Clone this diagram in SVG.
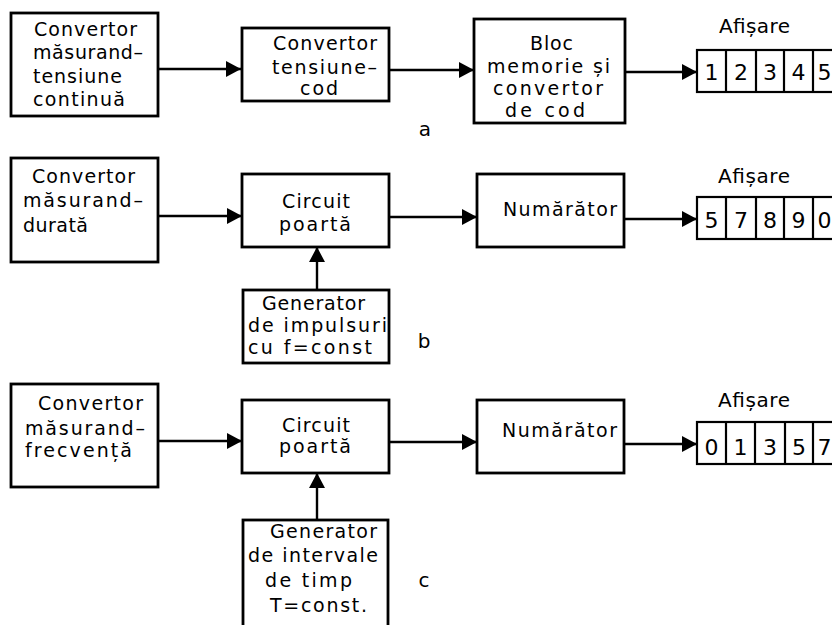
<svg xmlns="http://www.w3.org/2000/svg" width="832" height="625" viewBox="0 0 832 625">
<style>
.box{fill:#fff;stroke:#000;stroke-width:2.8}
.cell{fill:#fff;stroke:#000;stroke-width:2.2}
.con{fill:none;stroke:#000;stroke-width:2.4}
text{font-family:"DejaVu Sans","Liberation Sans",sans-serif;fill:#000}
.t{font-size:19px}
.h{font-size:20px}
.d{font-size:22px;text-anchor:middle}
.lbl{font-size:20px;text-anchor:middle}
</style>
<defs>
<marker id="ah" markerUnits="userSpaceOnUse" markerWidth="15" markerHeight="16" refX="15" refY="8" orient="auto">
<path d="M0,0 L15,8 L0,16 z" fill="#000"/>
</marker>
</defs>
<rect width="832" height="625" fill="#fff"/>
<g id="connectors">
<line class="con" x1="158" y1="69" x2="241" y2="69" marker-end="url(#ah)"/>
<line class="con" x1="389" y1="70" x2="474" y2="70" marker-end="url(#ah)"/>
<line class="con" x1="625" y1="72" x2="697" y2="72" marker-end="url(#ah)"/>
<line class="con" x1="158" y1="216" x2="242" y2="216" marker-end="url(#ah)"/>
<line class="con" x1="389" y1="217" x2="477" y2="217" marker-end="url(#ah)"/>
<line class="con" x1="624" y1="219" x2="697" y2="219" marker-end="url(#ah)"/>
<line class="con" x1="317" y1="290" x2="317" y2="247" marker-end="url(#ah)"/>
<line class="con" x1="158" y1="441" x2="242" y2="441" marker-end="url(#ah)"/>
<line class="con" x1="389" y1="442" x2="477" y2="442" marker-end="url(#ah)"/>
<line class="con" x1="624" y1="444" x2="697" y2="444" marker-end="url(#ah)"/>
<line class="con" x1="317" y1="520" x2="317" y2="473" marker-end="url(#ah)"/>
</g>
<!-- Row a -->
<g id="a-conv">
<rect class="box" x="11" y="13" width="147" height="103"/>
<text class="t" x="34" y="36" textLength="103" lengthAdjust="spacing">Convertor</text>
<text class="t" x="33" y="59" textLength="110" lengthAdjust="spacing">măsurand–</text>
<text class="t" x="33" y="83" textLength="89" lengthAdjust="spacing">tensiune</text>
<text class="t" x="33" y="106" textLength="92" lengthAdjust="spacing">continuă</text>
</g>
<g id="a-tcod">
<rect class="box" x="242" y="28" width="147" height="73"/>
<text class="t" x="273" y="50" textLength="104" lengthAdjust="spacing">Convertor</text>
<text class="t" x="272" y="74" textLength="105" lengthAdjust="spacing">tensiune–</text>
<text class="t" x="300" y="95" textLength="38" lengthAdjust="spacing">cod</text>
</g>
<g id="a-mem">
<rect class="box" x="474" y="19" width="151" height="104"/>
<text class="t" x="530" y="50" textLength="43" lengthAdjust="spacing">Bloc</text>
<text class="t" x="487" y="73" textLength="123" lengthAdjust="spacing">memorie  și</text>
<text class="t" x="493" y="95" textLength="110" lengthAdjust="spacing">convertor</text>
<text class="t" x="505" y="117" textLength="80" lengthAdjust="spacing">de  cod</text>
</g>
<g id="a-disp">
<text class="h" x="719" y="33" textLength="71" lengthAdjust="spacing">Afișare</text>
<rect class="cell" x="697" y="50" width="145" height="42"/>
<line class="cell" x1="726" y1="50" x2="726" y2="92"/>
<line class="cell" x1="756" y1="50" x2="756" y2="92"/>
<line class="cell" x1="784" y1="50" x2="784" y2="92"/>
<line class="cell" x1="813" y1="50" x2="813" y2="92"/>
<text class="d" x="711.5" y="80">1</text>
<text class="d" x="741" y="80">2</text>
<text class="d" x="770" y="80">3</text>
<text class="d" x="798.5" y="80">4</text>
<text class="d" x="824.5" y="80">5</text>
</g>
<text class="lbl" x="425" y="136">a</text>
<!-- Row b -->
<g id="b-conv">
<rect class="box" x="11" y="158" width="147" height="104"/>
<text class="t" x="32" y="183" textLength="103" lengthAdjust="spacing">Convertor</text>
<text class="t" x="23" y="207" textLength="120" lengthAdjust="spacing">măsurand–</text>
<text class="t" x="23" y="232" textLength="65" lengthAdjust="spacing">durată</text>
</g>
<g id="b-gate">
<rect class="box" x="242" y="174" width="147" height="73"/>
<text class="t" x="282" y="208" textLength="68" lengthAdjust="spacing">Circuit</text>
<text class="t" x="279" y="231" textLength="72" lengthAdjust="spacing">poartă</text>
</g>
<g id="b-count">
<rect class="box" x="477" y="174" width="147" height="73"/>
<text class="t" x="503" y="216" textLength="114" lengthAdjust="spacing">Numărător</text>
</g>
<g id="b-gen">
<rect class="box" x="243" y="290" width="146" height="73"/>
<text class="t" x="262" y="310" textLength="103" lengthAdjust="spacing">Generator</text>
<text class="t" x="248" y="332" textLength="139" lengthAdjust="spacing">de  impulsuri</text>
<text class="t" x="248" y="354" textLength="124" lengthAdjust="spacing">cu  f=const</text>
</g>
<g id="b-disp">
<text class="h" x="718" y="183" textLength="72" lengthAdjust="spacing">Afișare</text>
<rect class="cell" x="697" y="197" width="145" height="42"/>
<line class="cell" x1="726" y1="197" x2="726" y2="239"/>
<line class="cell" x1="756" y1="197" x2="756" y2="239"/>
<line class="cell" x1="784" y1="197" x2="784" y2="239"/>
<line class="cell" x1="813" y1="197" x2="813" y2="239"/>
<text class="d" x="711.5" y="228">5</text>
<text class="d" x="741" y="228">7</text>
<text class="d" x="770" y="228">8</text>
<text class="d" x="798.5" y="228">9</text>
<text class="d" x="824.5" y="228">0</text>
</g>
<text class="lbl" x="424" y="348">b</text>
<!-- Row c -->
<g id="c-conv">
<rect class="box" x="11" y="384" width="147" height="103"/>
<text class="t" x="38" y="410" textLength="105" lengthAdjust="spacing">Convertor</text>
<text class="t" x="25" y="435" textLength="120" lengthAdjust="spacing">măsurand–</text>
<text class="t" x="25" y="457" textLength="107" lengthAdjust="spacing">frecvență</text>
</g>
<g id="c-gate">
<rect class="box" x="242" y="400" width="147" height="73"/>
<text class="t" x="282" y="432" textLength="68" lengthAdjust="spacing">Circuit</text>
<text class="t" x="279" y="453" textLength="72" lengthAdjust="spacing">poartă</text>
</g>
<g id="c-count">
<rect class="box" x="477" y="400" width="147" height="73"/>
<text class="t" x="502" y="437" textLength="115" lengthAdjust="spacing">Numărător</text>
</g>
<g id="c-gen">
<rect class="box" x="243" y="520" width="145" height="115"/>
<text class="t" x="270" y="538" textLength="107" lengthAdjust="spacing">Generator</text>
<text class="t" x="248" y="562" textLength="130" lengthAdjust="spacing">de  intervale</text>
<text class="t" x="265" y="587" textLength="87" lengthAdjust="spacing">de  timp</text>
<text class="t" x="270" y="612" textLength="97" lengthAdjust="spacing">T=const.</text>
</g>
<g id="c-disp">
<text class="h" x="718" y="407" textLength="72" lengthAdjust="spacing">Afișare</text>
<rect class="cell" x="697" y="422" width="145" height="42"/>
<line class="cell" x1="726" y1="422" x2="726" y2="464"/>
<line class="cell" x1="755" y1="422" x2="755" y2="464"/>
<line class="cell" x1="785" y1="422" x2="785" y2="464"/>
<line class="cell" x1="813" y1="422" x2="813" y2="464"/>
<text class="d" x="711.5" y="455">0</text>
<text class="d" x="740.5" y="455">1</text>
<text class="d" x="770" y="455">3</text>
<text class="d" x="799" y="455">5</text>
<text class="d" x="824.5" y="455">7</text>
</g>
<text class="lbl" x="424" y="587">c</text>
</svg>
